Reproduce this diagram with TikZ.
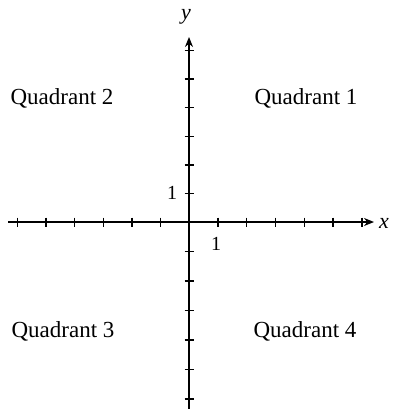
\documentclass[tikz,border=0pt]{standalone}
\usepackage{fontspec}
\setmainfont{Liberation Serif}
\usetikzlibrary{arrows.meta,calc}
\begin{document}
\begin{tikzpicture}[x=1pt,y=-1pt,
  axis/.style={line width=1.3pt,-{Stealth[length=10pt,width=8pt]}},
  tick/.style={line width=1.4pt},
  quad/.style={font=\fontsize{23}{26}\selectfont,inner sep=0pt},
  lbl/.style={font=\fontsize{20}{22}\selectfont,inner sep=0pt},
  axlbl/.style={font=\fontsize{22}{24}\selectfont\itshape,inner sep=0pt}]
\useasboundingbox (0,0) rectangle (392,409);
\coordinate (O) at (189,222);
\coordinate (xl) at (8,222);
\coordinate (xr) at (374,222);
\coordinate (yt) at (189,37);
\coordinate (yb) at (189,409);
\draw[line width=1.3pt] (O) -- (xl);
\draw[axis] (O) -- (xr);
\draw[line width=1.3pt] (O) -- (yb);
\draw[axis] (O) -- (yt);
\foreach \i in {1,...,6}{
  \draw[tick] ($(O)+(\i*28.8,-4.5)$) -- ++(0,9);
  \draw[tick] ($(O)+(-\i*28.6,-4.5)$) -- ++(0,9);
  \draw[tick] ($(O)+(-4.5,-\i*28.6)$) -- ++(9,0);
  \draw[tick] ($(O)+(-4.5,\i*29.5)$) -- ++(9,0);
}
\node[axlbl] (ylab) at (186,17) {y};
\node[axlbl] (xlab) at (384,223) {x};
\node[lbl] (one1) at (172,193) {1};
\node[lbl] (one2) at (216,244) {1};
\node[quad] (q2) at (62,98) {Quadrant 2};
\node[quad] (q1) at (306,98) {Quadrant 1};
\node[quad] (q3) at (63,331) {Quadrant 3};
\node[quad] (q4) at (305,331) {Quadrant 4};
\end{tikzpicture}
\end{document}
